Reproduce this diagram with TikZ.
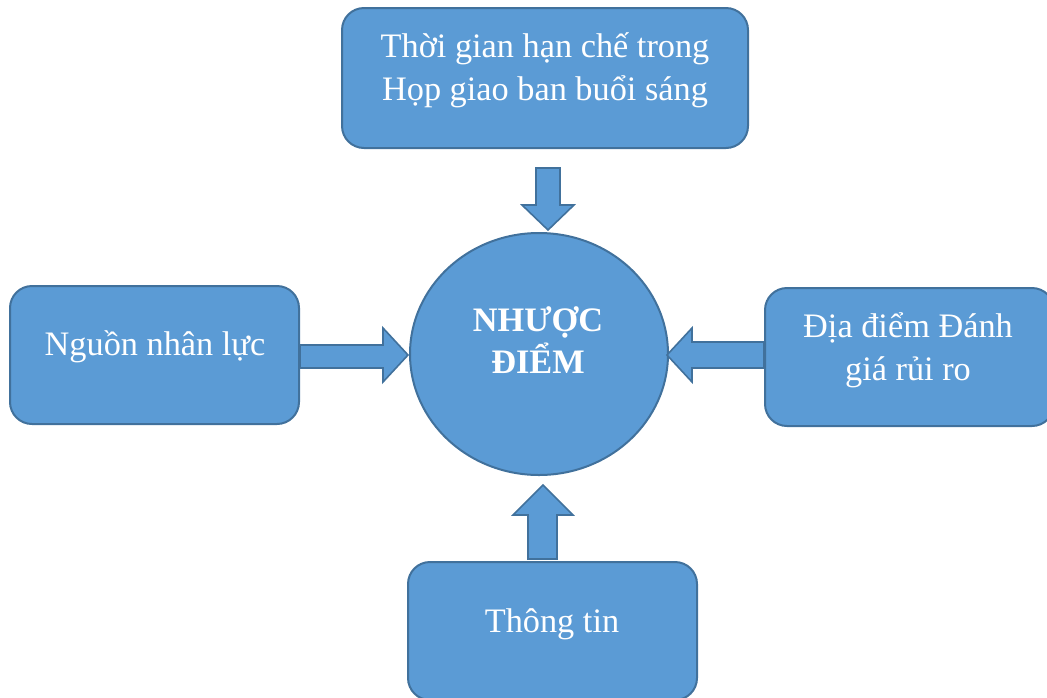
\documentclass[tikz,border=0pt]{standalone}
\usepackage{fontspec}
\setmainfont{Liberation Serif}
\usetikzlibrary{shapes.geometric}
\begin{document}
\begin{tikzpicture}[x=1pt,y=-1pt,
  box/.style={draw=boxline, fill=boxfill, line width=2pt, rounded corners=22pt,
    minimum width=289pt, minimum height=138pt, inner sep=0pt},
  hub/.style={draw=boxline, fill=boxfill, line width=2pt, ellipse,
    minimum width=258pt, minimum height=242pt, inner sep=0pt},
  label/.style={text=white, align=center, anchor=base, inner sep=0pt,
    font=\fontsize{34.3}{43}\selectfont},
  blockarrow/.style={draw=boxline, fill=boxfill, line width=1.6pt, line join=miter}]
\definecolor{boxfill}{HTML}{5B9BD5}
\definecolor{boxline}{HTML}{41719C}
\useasboundingbox (0,0) rectangle (1047,697);
\begin{scope}
\clip (0,0) rectangle (1047,697);

% boxes
\node[box, minimum width=406pt, minimum height=140pt] (top) at (545,78) {};
\node[box] (left) at (154.5,355) {};
\node[box] (right) at (909.5,357) {};
\node[box] (bottom) at (552.5,631) {};
\node[hub] (hub) at (539,354) {};

% box texts (a multi-line node sits on the baseline of its last line)
\node[label] (toptext) at (545,100) {Thời gian hạn chế trong\\Họp giao ban buổi sáng};
\node[label] (lefttext) at (155,355) {Nguồn nhân lực};
\node[label] (righttext) at (908,380) {Địa điểm Đánh\\giá rủi ro};
\node[label] (bottomtext) at (552,632) {Thông tin};
\node[label, font=\fontsize{34.3}{42}\selectfont\bfseries] (hubtext) at (538,373) {NHƯỢC\\ĐIỂM};

% block arrows towards the hub
\draw[blockarrow] (536,168) -- (560,168) -- (560,205) -- (574,205) -- (548,230)
  -- (522,205) -- (536,205) -- cycle;
\draw[blockarrow] (left.east |- 0,345) -- (383,345) -- (383,328) -- (408,355)
  -- (383,382) -- (383,368) -- (left.east |- 0,368) -- cycle;
\draw[blockarrow] (right.west |- 0,342) -- (692,342) -- (692,328) -- (667,355)
  -- (692,382) -- (692,368) -- (right.west |- 0,368) -- cycle;
\draw[blockarrow] (528,559) -- (528,515) -- (513,515) -- (543,485) -- (573,515)
  -- (557,515) -- (557,559) -- cycle;
\end{scope}
\end{tikzpicture}
\end{document}
